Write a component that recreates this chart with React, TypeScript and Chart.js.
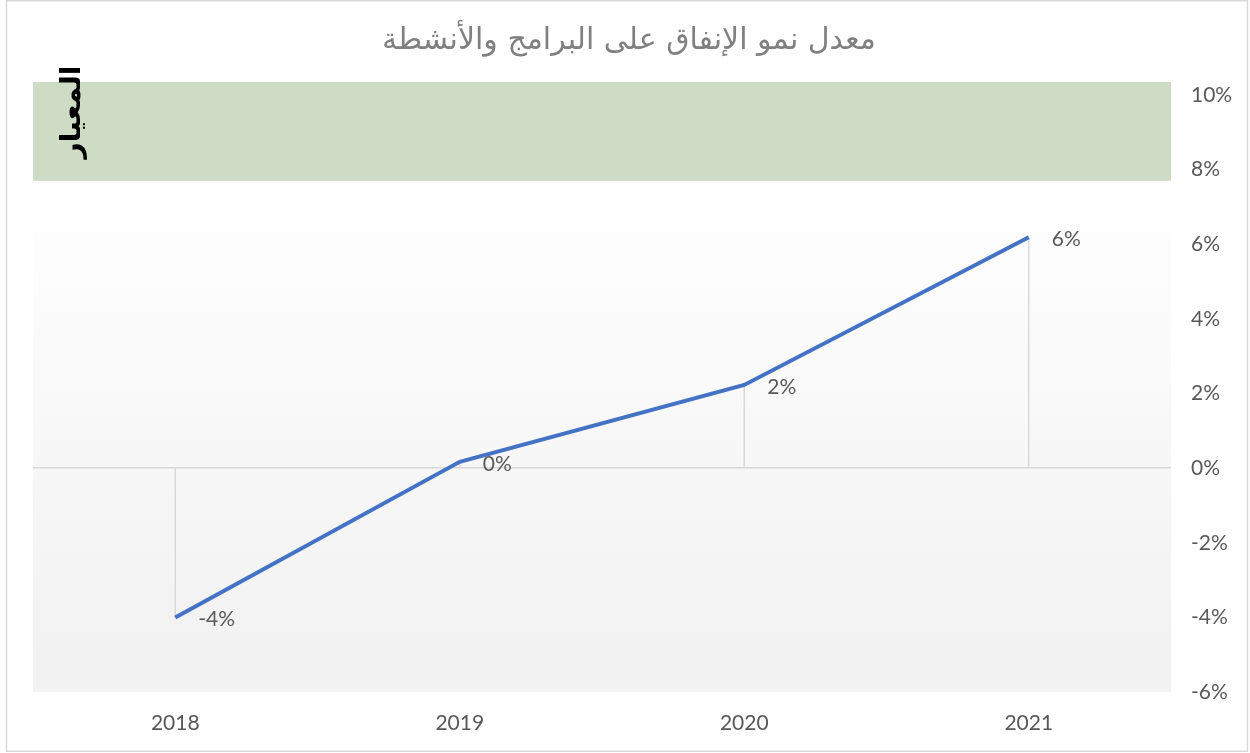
import React, { useEffect, useRef } from "react";
import { Chart, registerables } from "chart.js";

Chart.register(...registerables);

const categories = ["2018", "2019", "2020", "2021"];
const growthValues = [-0.04, 0.0017, 0.0223, 0.0619];
const dataLabels = ["-4%", "0%", "2%", "6%"];
const yTickValues = [-0.06, -0.04, -0.02, 0, 0.02, 0.04, 0.06, 0.08, 0.1];
const benchmarkRange = [0.077, 0.1035];
const titleText = "معدل نمو الإنفاق على البرامج والأنشطة";
const benchmarkLabel = "المعيار";

const numFont = "Lato, 'Open Sans', sans-serif";

export default function App() {
  const ref = useRef<HTMLCanvasElement | null>(null);

  useEffect(() => {
    if (!ref.current) return;

    const decorPlugin = {
      id: "decor",
      beforeDraw(chart: any) {
        const { ctx, chartArea, scales } = chart;
        const y = scales.y;
        ctx.save();
        ctx.fillStyle = "#ffffff";
        ctx.fillRect(0, 0, chart.width, chart.height);
        // border
        ctx.strokeStyle = "#d9d9d9";
        ctx.lineWidth = 1.5;
        ctx.strokeRect(6.5, 0.75, 1241, 750.5);
        // benchmark band
        const gTop = y.getPixelForValue(benchmarkRange[1]);
        const gBot = y.getPixelForValue(benchmarkRange[0]);
        ctx.fillStyle = "#cedbc5";
        ctx.fillRect(chartArea.left, gTop, chartArea.right - chartArea.left, gBot - gTop);
        // gradient below
        const grad = ctx.createLinearGradient(0, gBot, 0, chartArea.bottom);
        grad.addColorStop(0, "#ffffff");
        grad.addColorStop(0.9, "#f2f2f2");
        grad.addColorStop(1, "#f2f2f2");
        ctx.fillStyle = grad;
        ctx.fillRect(chartArea.left, gBot, chartArea.right - chartArea.left, chartArea.bottom - gBot);
        // title
        ctx.fillStyle = "#808080";
        ctx.font = "30px 'DejaVu Sans', sans-serif";
        ctx.textAlign = "center";
        ctx.textBaseline = "middle";
        ctx.direction = "rtl";
        ctx.fillText(titleText, 629, 41);
        ctx.restore();
      },
      beforeDatasetsDraw(chart: any) {
        const { ctx, scales } = chart;
        const meta = chart.getDatasetMeta(0);
        const zero = scales.y.getPixelForValue(0);
        ctx.save();
        ctx.strokeStyle = "#d9d9d9";
        ctx.lineWidth = 1.5;
        meta.data.forEach((pt: any) => {
          ctx.beginPath();
          ctx.moveTo(pt.x, zero);
          ctx.lineTo(pt.x, pt.y);
          ctx.stroke();
        });
        ctx.restore();
      },
      afterDatasetsDraw(chart: any) {
        const { ctx } = chart;
        const meta = chart.getDatasetMeta(0);
        ctx.save();
        ctx.fillStyle = "#595959";
        ctx.font = `21px ${numFont}`;
        ctx.textAlign = "left";
        ctx.textBaseline = "middle";
        meta.data.forEach((pt: any, i: number) => {
          ctx.fillText(dataLabels[i], pt.x + 23, pt.y + 2);
        });
        // rotated benchmark label
        ctx.fillStyle = "#000000";
        ctx.font = "bold 28px 'DejaVu Sans', sans-serif";
        ctx.translate(73, 112);
        ctx.rotate(-Math.PI / 2);
        ctx.textAlign = "center";
        ctx.textBaseline = "middle";
        ctx.direction = "rtl";
        ctx.fillText(benchmarkLabel, 0, 0);
        ctx.restore();
      },
    };

    const chart = new Chart(ref.current, {
      type: "line",
      data: {
        labels: categories,
        datasets: [
          {
            data: growthValues,
            borderColor: "#4472c4",
            borderWidth: 4,
            pointRadius: 0,
            tension: 0,
            fill: false,
          },
        ],
      },
      options: {
        responsive: false,
        animation: false,
        layout: { padding: { left: 33, right: 0, top: 82, bottom: 0 } },
        plugins: {
          legend: { display: false },
          title: { display: false },
          tooltip: { enabled: false },
        },
        scales: {
          x: {
            offset: true,
            grid: { display: false, drawTicks: false },
            border: { display: false },
            ticks: {
              color: "#595959",
              font: { family: numFont, size: 21 },
              padding: 19,
            },
            afterFit(scale: any) {
              scale.height = 61;
            },
          },
          y: {
            position: "right",
            min: -0.06,
            max: benchmarkRange[1],
            border: { display: false },
            grid: {
              drawTicks: false,
              lineWidth: 1.5,
              color: (c: any) => (c.tick && Math.abs(c.tick.value) < 1e-9 ? "#d9d9d9" : "rgba(0,0,0,0)"),
            },
            afterBuildTicks(scale: any) {
              scale.ticks = yTickValues.map((v) => ({ value: v }));
            },
            ticks: {
              color: "#595959",
              font: { family: numFont, size: 21 },
              padding: 20,
              callback: (v: any) => `${Math.round(Number(v) * 100)}%`,
            },
            afterFit(scale: any) {
              scale.width = 79;
            },
          },
        },
      },
      plugins: [decorPlugin],
    });

    return () => chart.destroy();
  }, []);

  return (
    <div style={{ position: "fixed", left: 0, top: 0, width: 1250, height: 753 }}>
      <canvas ref={ref} width={1250} height={753} style={{ width: 1250, height: 753, display: "block" }} />
    </div>
  );
}
